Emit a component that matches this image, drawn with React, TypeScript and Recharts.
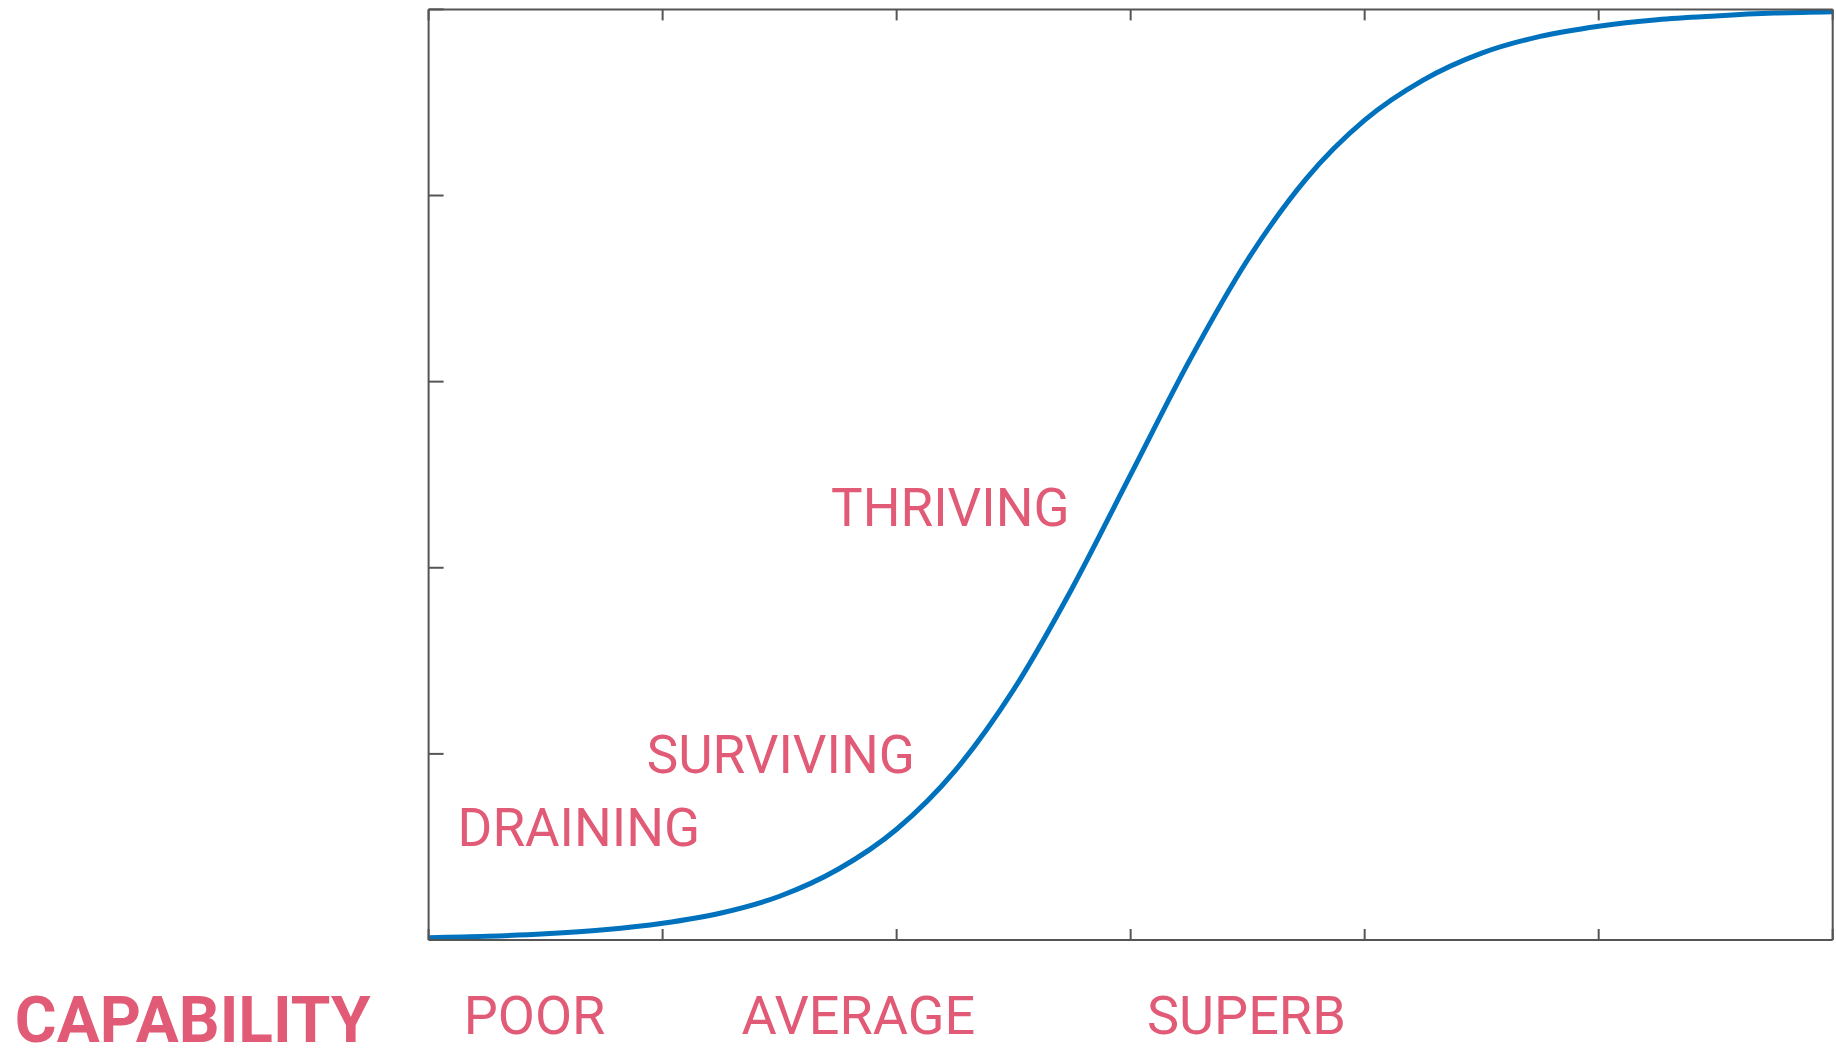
import React from 'react';
import { LineChart, Line, XAxis, YAxis, ReferenceDot } from 'recharts';

// capability (x) and the s-curve
const capability = [0, 0.25, 0.5, 0.75, 1, 1.25, 1.5, 1.75, 2, 2.25, 2.5, 2.75, 3, 3.25, 3.5, 3.75, 4, 4.25, 4.5, 4.75, 5, 5.25, 5.5, 5.75, 6];
const outcome = [0.0025, 0.004, 0.0067, 0.011, 0.018, 0.029, 0.047, 0.076, 0.119, 0.182, 0.269, 0.378, 0.5, 0.622, 0.731, 0.818, 0.881, 0.924, 0.953, 0.971, 0.982, 0.989, 0.993, 0.996, 0.9975];

const xTicks = [0, 1, 2, 3, 4, 5, 6];
const yTicks = [0, 0.2, 0.4, 0.6, 0.8, 1];

// text labels placed in data coordinates
const zoneNames = ['DRAINING', 'SURVIVING', 'THRIVING'];
const zoneX = [0.124, 0.932, 1.72];
const zoneY = [0.101, 0.179, 0.4445];

const levelNames = ['POOR', 'AVERAGE', 'SUPERB'];
const levelX = [0.15, 1.337, 3.07];
const levelY = -0.101;

const axisTitle = 'CAPABILITY';
const axisTitleX = -1.768;
const axisTitleY = -0.1096;

const data = capability.map((x, i) => ({ x, y: outcome[i] }));

const PINK = '#E15B76';
const AXIS = '#555555';

const textLabel = (text: string, size: number, weight: number) => (props: any) => {
    const vb = props.viewBox || {};
    return (
        <text x={vb.x} y={vb.y} fill={PINK} fontSize={size} fontWeight={weight} fontFamily="Roboto" textAnchor="start">
            {text}
        </text>
    );
};

const noLabel = () => '';

const App = () => {
    return (
        <div style={{ position: 'absolute', left: 0, top: 0, width: 1836, height: 1053, background: '#fff' }}>
            <LineChart width={1836} height={1053} data={data} margin={{ top: 9.4, right: 3.3, bottom: 113, left: 428.6 }}>
                <XAxis dataKey="x" type="number" domain={[0, 6]} ticks={xTicks} mirror tickSize={11}
                    tickFormatter={noLabel} stroke={AXIS} strokeWidth={2} allowDataOverflow />
                <XAxis xAxisId="top" orientation="top" dataKey="x" type="number" domain={[0, 6]} ticks={xTicks} mirror tickSize={11}
                    tickFormatter={noLabel} stroke={AXIS} strokeWidth={2} />
                <YAxis type="number" domain={[0, 1]} ticks={yTicks} mirror tickSize={15}
                    tickFormatter={noLabel} stroke={AXIS} strokeWidth={2} allowDataOverflow />
                <YAxis yAxisId="right" orientation="right" type="number" domain={[0, 1]} ticks={yTicks} mirror tickSize={15}
                    tickFormatter={noLabel} stroke={AXIS} strokeWidth={2} />
                <Line type="monotone" dataKey="y" stroke="#0072BD" strokeWidth={5} dot={false} isAnimationActive={false} />
                {zoneNames.map((name, i) => (
                    <ReferenceDot key={name} x={zoneX[i]} y={zoneY[i]} r={0} fill="none" stroke="none"
                        ifOverflow="visible" label={textLabel(name, 53, 400)} />
                ))}
                {levelNames.map((name, i) => (
                    <ReferenceDot key={name} x={levelX[i]} y={levelY} r={0} fill="none" stroke="none"
                        ifOverflow="visible" label={textLabel(name, 54, 400)} />
                ))}
                <ReferenceDot x={axisTitleX} y={axisTitleY} r={0} fill="none" stroke="none"
                    ifOverflow="visible" label={textLabel(axisTitle, 64, 700)} />
            </LineChart>
        </div>
    );
};

export default App;
